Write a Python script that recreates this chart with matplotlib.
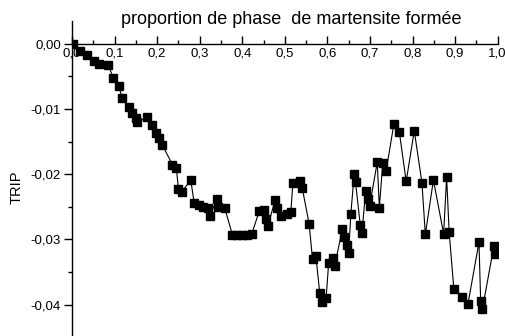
import matplotlib
matplotlib.use("Agg")
import matplotlib.pyplot as plt
from matplotlib.ticker import MultipleLocator, FuncFormatter

plt.rcParams['font.family'] = ['Liberation Sans', 'DejaVu Sans']

# proportion de martensite formée
prop = [0.003, 0.019, 0.035, 0.052, 0.064, 0.085, 0.097, 0.110, 0.118, 0.134,
        0.142, 0.150, 0.153, 0.176, 0.189, 0.197, 0.204, 0.212, 0.236, 0.245,
        0.250, 0.258, 0.279, 0.287, 0.298, 0.308, 0.320, 0.324, 0.340, 0.344,
        0.359, 0.377, 0.388, 0.399, 0.410, 0.422, 0.440, 0.450, 0.455, 0.460,
        0.477, 0.482, 0.491, 0.504, 0.514, 0.519, 0.536, 0.541, 0.557, 0.565,
        0.573, 0.582, 0.587, 0.597, 0.603, 0.612, 0.617, 0.635, 0.640, 0.645,
        0.650, 0.655, 0.663, 0.666, 0.677, 0.681, 0.690, 0.695, 0.699, 0.717,
        0.722, 0.730, 0.738, 0.756, 0.769, 0.785, 0.804, 0.822, 0.830, 0.849,
        0.873, 0.880, 0.886, 0.897, 0.915, 0.930, 0.956, 0.960, 0.964, 0.991,
        0.994]

# TRIP
trip = [0.0000, -0.00107, -0.00178, -0.00261, -0.00311, -0.00322, -0.00526, -0.00646, -0.00840, -0.00966,
        -0.01067, -0.01135, -0.01206, -0.01129, -0.01247, -0.01365, -0.01451, -0.01554, -0.01853, -0.01899,
        -0.02224, -0.02270, -0.02090, -0.02443, -0.02474, -0.02500, -0.02525, -0.02643, -0.02387, -0.02505,
        -0.02525, -0.02934, -0.02934, -0.02934, -0.02934, -0.02923, -0.02566, -0.02555, -0.02684, -0.02796,
        -0.02402, -0.02520, -0.02640, -0.02607, -0.02577, -0.02132, -0.02101, -0.02218, -0.02762, -0.03305,
        -0.03261, -0.03828, -0.03957, -0.03896, -0.03356, -0.03291, -0.03409, -0.02847, -0.02969, -0.03087,
        -0.03206, -0.02609, -0.01998, -0.02118, -0.02776, -0.02896, -0.02255, -0.02377, -0.02494, -0.01819,
        -0.02515, -0.01827, -0.01949, -0.01235, -0.01357, -0.02113, -0.01334, -0.02129, -0.02926, -0.02090,
        -0.02916, -0.02044, -0.02893, -0.03762, -0.03880, -0.03997, -0.03046, -0.03949, -0.04072, -0.03103,
        -0.03225]

fig = plt.figure(figsize=(5.06, 3.36), dpi=100)
ax = fig.add_axes([72 / 506, 0.0, 425.7 / 506, 1 - 20.7 / 336])

ax.plot(prop, trip, color='black', linewidth=0.8, marker='s', markersize=6,
        markerfacecolor='black', markeredgecolor='black')

ax.set_xlim(0, 1.0)
ax.set_ylim(-0.04483, 0.00353)

# axe x sur y = 0, pas de cadre
ax.spines['top'].set_visible(False)
ax.spines['right'].set_visible(False)
ax.spines['bottom'].set_position(('data', 0))
ax.spines['bottom'].set_linewidth(1.0)
ax.spines['left'].set_linewidth(1.0)

ax.xaxis.set_major_locator(MultipleLocator(0.1))
ax.xaxis.set_minor_locator(MultipleLocator(0.05))
ax.yaxis.set_major_locator(MultipleLocator(0.01))
ax.yaxis.set_minor_locator(MultipleLocator(0.005))

ax.xaxis.set_major_formatter(FuncFormatter(lambda v, p: f"{v:.1f}".replace('.', ',')))
ax.yaxis.set_major_formatter(FuncFormatter(lambda v, p: f"{v:.2f}".replace('.', ',').replace('-0,00', '0,00')))

ax.tick_params(axis='x', which='major', direction='in', length=6, width=1, labelsize=9.5, pad=3)
ax.tick_params(axis='x', which='minor', direction='in', length=3, width=1)
ax.tick_params(axis='y', which='major', direction='out', length=6, width=1, labelsize=9.5, pad=2)
ax.tick_params(axis='y', which='minor', direction='out', length=3, width=1)

fig.text(291 / 506, 1 - 20 / 336, "proportion de phase  de martensite formée",
         ha='center', va='center', fontsize=13)
fig.text(17 / 506, 1 - 187 / 336, "TRIP", rotation=90, ha='center', va='center', fontsize=10.5)

fig.savefig("out.png", dpi=100)
